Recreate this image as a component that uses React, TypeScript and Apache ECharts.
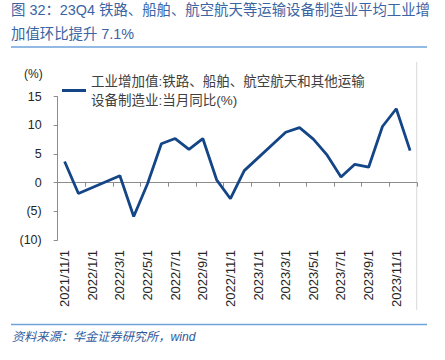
import React, { useEffect, useRef } from "react";
import * as echarts from "echarts";

const categories: string[] = [
  "2021/11/1", "2021/12/1",
  "2022/1/1", "2022/2/1", "2022/3/1", "2022/4/1", "2022/5/1", "2022/6/1",
  "2022/7/1", "2022/8/1", "2022/9/1", "2022/10/1", "2022/11/1", "2022/12/1",
  "2023/1/1", "2023/2/1", "2023/3/1", "2023/4/1", "2023/5/1", "2023/6/1",
  "2023/7/1", "2023/8/1", "2023/9/1", "2023/10/1", "2023/11/1", "2023/12/1",
];

const values: (number | null)[] = [
  3.7, -1.9,
  null, null, 1.2, -5.9, -0.2, 6.8,
  7.7, 5.8, 7.7, 0.5, -2.8, 2.1,
  null, null, 8.8, 9.6, 7.6, 4.8,
  1.0, 3.2, 2.7, 9.8, 12.9, 5.6,
];

const seriesName = "工业增加值:铁路、船舶、航空航天和其他运输\n设备制造业:当月同比(%)";
const titleText = "图 32：23Q4 铁路、船舶、航空航天等运输设备制造业平均工业增\n加值环比提升 7.1%";
const sourceText = "资料来源：华金证券研究所，wind";

const yTicks = { min: -10, max: 15, interval: 5 };

const FONT = '"Liberation Sans", "Noto Sans CJK SC", sans-serif';
const CJK = '"Liberation Sans", "Noto Sans CJK SC", sans-serif';

export default function App() {
  const ref = useRef<HTMLDivElement>(null);
  useEffect(() => {
    if (!ref.current) return;
    const chart = echarts.init(ref.current, undefined, { renderer: "svg" });
    chart.setOption({
      animation: false,
      backgroundColor: "#ffffff",
      title: {
        text: titleText,
        left: 11,
        top: -2,
        padding: 0,
        textStyle: {
          fontFamily: CJK,
          fontSize: 14.4,
          fontWeight: "normal",
          color: "#3a64a3",
          lineHeight: 24,
        },
      },
      legend: {
        show: true,
        left: 62,
        top: 62,
        padding: 0,
        itemWidth: 24,
        itemHeight: 3,
        icon: "rect",
        itemGap: 0,
        data: [{ name: seriesName, icon: "rect" }],
        textStyle: {
          fontFamily: CJK,
          fontSize: 13.5,
          color: "#404040",
          lineHeight: 19,
          padding: [19, 0, 0, 0],
        },
      },
      grid: {
        left: 57.7,
        right: 28,
        top: 96.7,
        bottom: 120,
        outerBoundsMode: "none",
        containLabel: false,
      },
      xAxis: [
        {
          type: "category",
          data: categories,
          boundaryGap: true,
          axisLine: { show: true, onZero: true, lineStyle: { color: "#8c8c8c", width: 1 } },
          axisTick: { show: true, interval: 1, length: 4, lineStyle: { color: "#8c8c8c" } },
          axisLabel: { show: false },
          splitLine: { show: false },
        },
        {
          type: "category",
          data: categories,
          position: "bottom",
          boundaryGap: true,
          axisLine: { show: false, onZero: false },
          axisTick: { show: false },
          axisLabel: {
            show: true,
            interval: 1,
            rotate: 90,
            margin: 10,
            fontFamily: FONT,
            fontSize: 13,
            color: "#262626",
          },
          splitLine: { show: false },
        },
      ],
      yAxis: {
        type: "value",
        min: yTicks.min,
        max: yTicks.max,
        interval: yTicks.interval,
        name: "(%)",
        nameLocation: "end",
        nameGap: 17,
        nameTextStyle: {
          fontFamily: FONT,
          fontSize: 12,
          color: "#262626",
          align: "right",
          padding: [0, 15, 0, 0],
        },
        axisLine: { show: true, lineStyle: { color: "#8c8c8c", width: 1 } },
        axisTick: { show: true, length: 4, lineStyle: { color: "#8c8c8c" } },
        axisLabel: {
          margin: 16,
          fontFamily: FONT,
          fontSize: 12.5,
          color: "#262626",
          formatter: (v: number) => (v < 0 ? `(${-v})` : `${v}`),
        },
        splitLine: { show: false },
      },
      series: [
        {
          name: seriesName,
          type: "line",
          xAxisIndex: 0,
          data: values,
          connectNulls: true,
          showSymbol: false,
          symbol: "none",
          lineStyle: { color: "#144587", width: 2.8 },
          itemStyle: { color: "#144587" },
        },
      ],
      graphic: [
        {
          type: "line",
          shape: { x1: 11, y1: 47, x2: 427, y2: 47 },
          style: { stroke: "#6fa3d8", lineWidth: 1.5 },
        },
        {
          type: "line",
          shape: { x1: 416.7, y1: 62, x2: 416.7, y2: 310 },
          style: { stroke: "#d9d9d9", lineWidth: 1 },
        },
        {
          type: "line",
          shape: { x1: 11, y1: 324.5, x2: 427, y2: 324.5 },
          style: { stroke: "#6fa3d8", lineWidth: 1.5 },
        },
        {
          type: "text",
          left: 12,
          top: 331,
          style: {
            text: sourceText,
            fontFamily: CJK,
            fontSize: 12.2,
            fontStyle: "italic",
            fill: "#2f5b9c",
          },
        },
      ],
    });
    return () => chart.dispose();
  }, []);
  return (
    <div
      ref={ref}
      style={{ position: "fixed", left: 0, top: 0, width: 445, height: 360 }}
    />
  );
}
